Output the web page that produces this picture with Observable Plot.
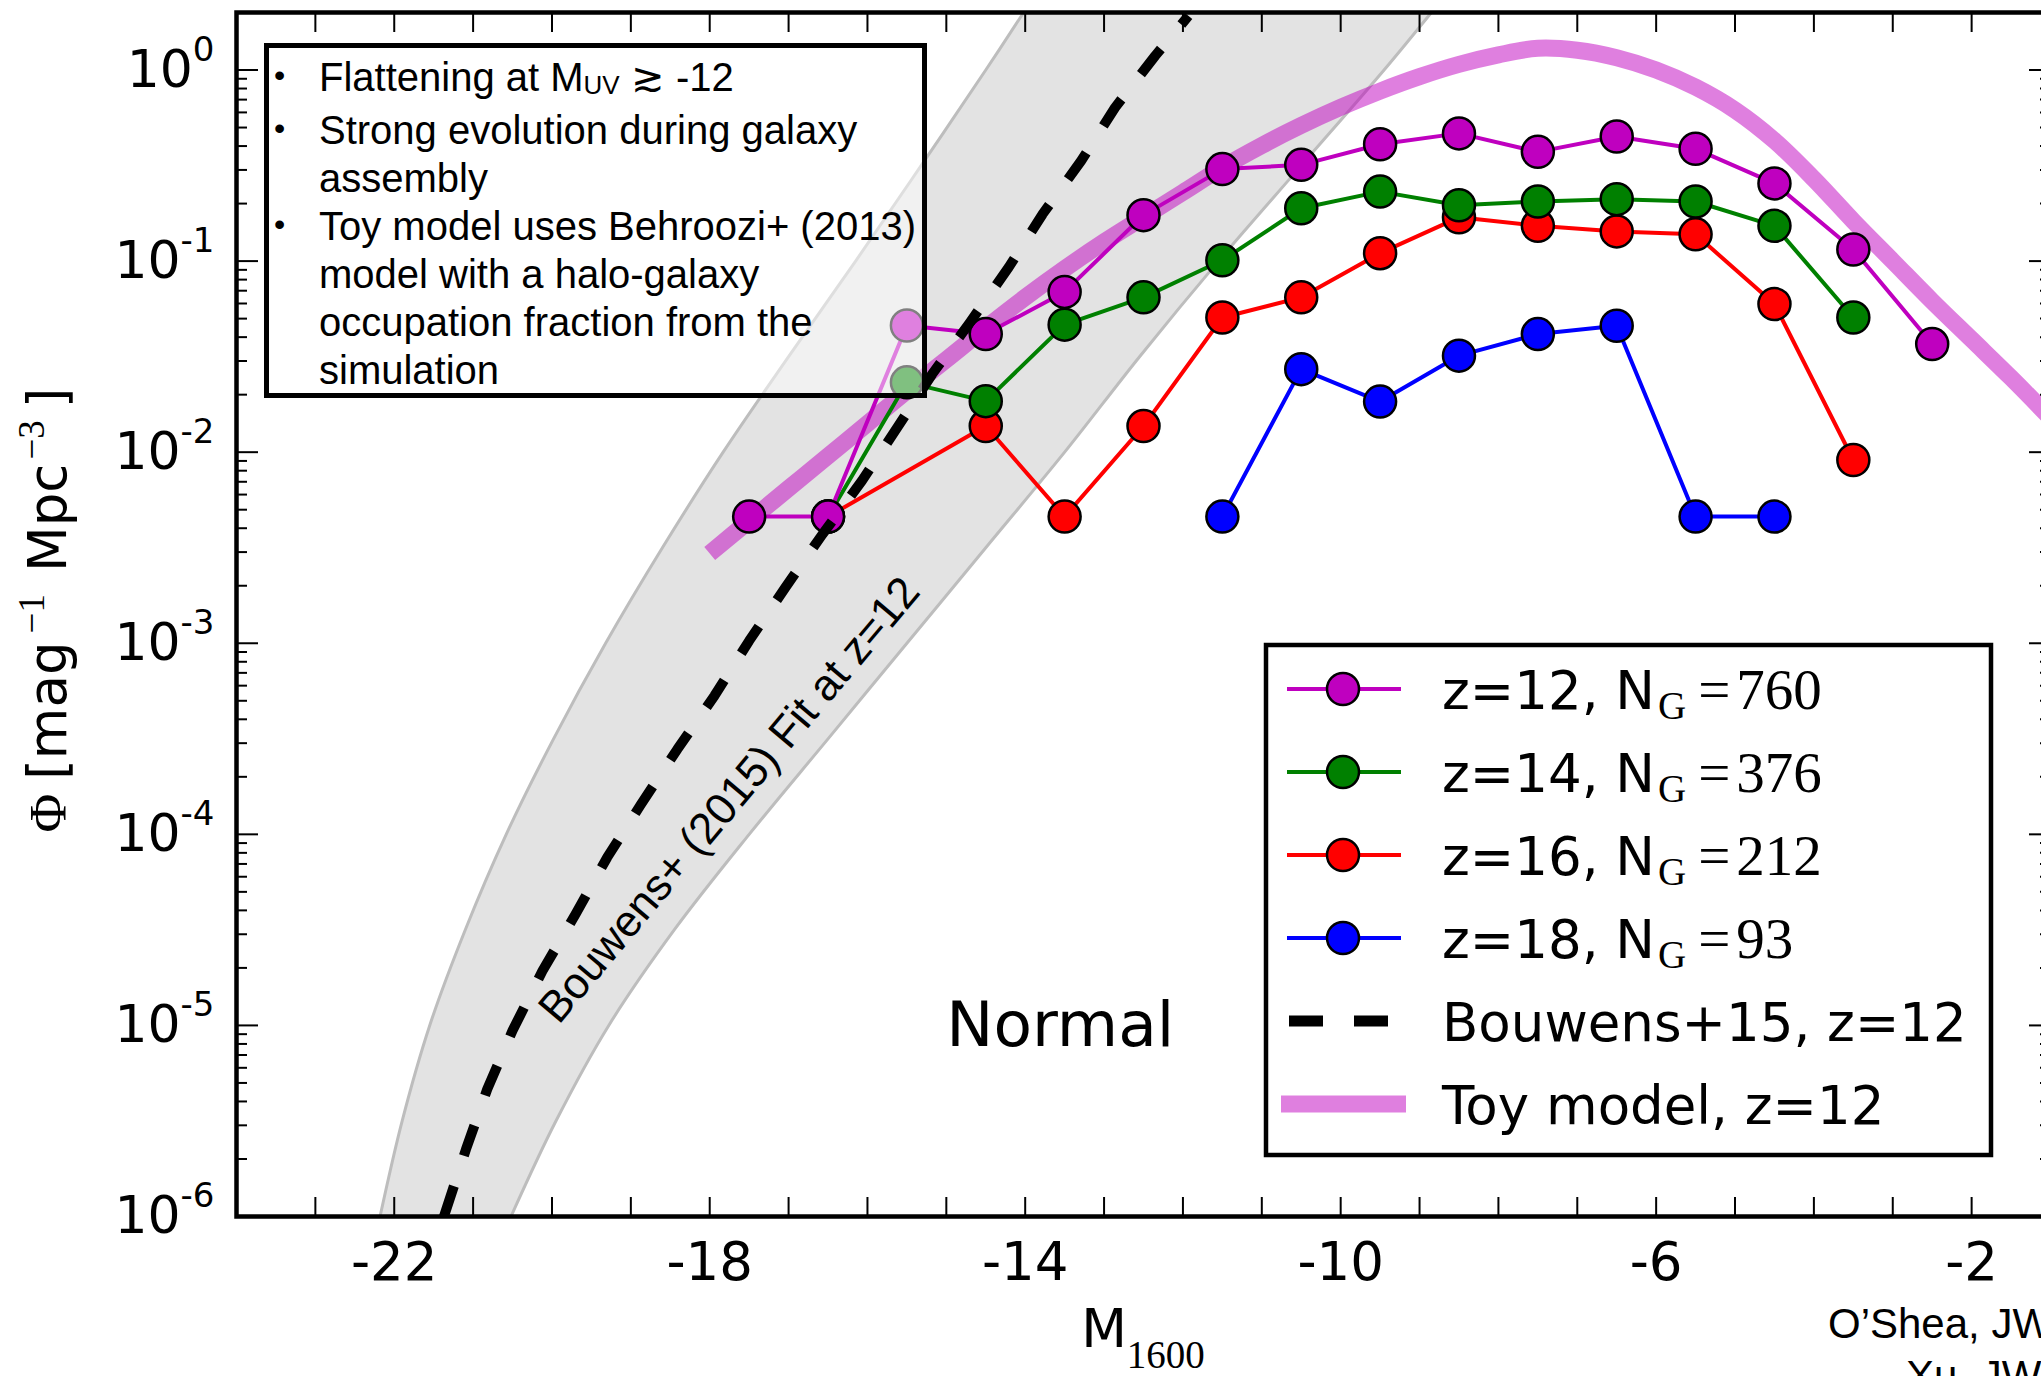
<!DOCTYPE html>
<html>
<head>
<meta charset="utf-8">
<script src="https://cdn.jsdelivr.net/npm/d3@7"></script>
<script src="https://cdn.jsdelivr.net/npm/@observablehq/plot@0.6"></script>
<style>
  html, body { margin: 0; padding: 0; background: #fff; overflow: hidden; }
  #stage { position: relative; width: 2060px; height: 1376px; overflow: hidden; }
  #notes {
    position: absolute; left: 264px; top: 43px; width: 663px; height: 355px;
    box-sizing: border-box; border: 5px solid #000; background: rgba(255,255,255,0.5);
    font-family: "Liberation Sans", Arial, sans-serif; font-size: 40px; line-height: 48px;
    padding-top: 5px; color: #000;
  }
  #notes .item { position: relative; padding-left: 50px; white-space: nowrap; }
  #notes .bullet { position: absolute; left: 5px; top: -2px; font-size: 32px; line-height: 48px; }
  #notes .sub { font-size: 26px; position: relative; top: 3px; }
</style>
</head>
<body>
<div id="stage"></div>
<script>
// ---------------- data ----------------
// magnitude bin centres (M_1600)
const magBins = [-17.5, -16.5, -15.5, -14.5, -13.5, -12.5, -11.5, -10.5, -9.5, -8.5, -7.5, -6.5, -5.5, -4.5, -3.5, -2.5];
// luminosity function per redshift (null = empty bin)
const phiZ12 = [0.0046, 0.0046, 0.046, 0.0415, 0.069, 0.174, 0.303, 0.319, 0.409, 0.466, 0.373, 0.449, 0.387, 0.255, 0.115, 0.0368];
const phiZ14 = [null, 0.0046, 0.0232, 0.0185, 0.0465, 0.0646, 0.101, 0.189, 0.231, 0.196, 0.205, 0.211, 0.205, 0.153, 0.0507, null];
const phiZ16 = [null, 0.0046, null, 0.0137, 0.0046, 0.0137, 0.0507, 0.0646, 0.110, 0.1695, 0.153, 0.143, 0.138, 0.0596, 0.0091, null];
const phiZ18 = [null, null, null, null, null, null, 0.0046, 0.0272, 0.0184, 0.032, 0.0415, 0.0459, 0.0046, 0.0046, null, null];

const seriesNames = ["z=12", "z=14", "z=16", "z=18"];
const seriesCounts = [760, 376, 212, 93];

// Bouwens+ (2015) fit extrapolated to z=12
const fitMag = [-21.37, -21.09, -20.82, -20.50, -20.12, -19.70, -19.30, -18.87, -18.41, -17.94, -17.50, -17.04, -16.57, -16.07, -15.62, -15.18, -14.70, -14.21, -13.78, -13.29, -12.86, -12.35, -11.93];
const fitPhi = [1.0e-6, 2.25e-6, 4.65e-6, 9.4e-6, 1.93e-5, 3.83e-5, 7.57e-5, 1.44e-4, 2.79e-4, 5.31e-4, 1.03e-3, 1.96e-3, 3.72e-3, 7.08e-3, 1.35e-2, 2.56e-2, 4.78e-2, 9.27e-2, 0.176, 0.335, 0.637, 1.19, 1.92];

// uncertainty envelope of the fit: bright and faint edge at each Φ level
const bandPhi = [1e-6, 3.16e-6, 1e-5, 3.16e-5, 1e-4, 3.16e-4, 1e-3, 3.16e-3, 0.01, 0.0316, 0.1, 0.316, 1, 2];
const bandBright = [-22.18, -21.9, -21.55, -21.1, -20.58, -19.98, -19.32, -18.6, -17.83, -17.0, -16.15, -15.32, -14.5, -14.02];
const bandFaint = [-20.52, -19.95, -19.28, -18.45, -17.5, -16.5, -15.5, -14.5, -13.5, -12.55, -11.55, -10.5, -9.45, -8.85];

// toy model (Behroozi+ 2013 with occupation fraction), z=12
const toyMag = [-18, -17.5, -17, -16.5, -16, -15.5, -15, -14.5, -14, -13.5, -13, -12.5, -12, -11.5, -11, -10.5, -10, -9.5, -9, -8.5, -8, -7.5, -7, -6.5, -6, -5.5, -5, -4.5, -4, -3.5, -3, -2.5, -2, -1.5, -1];
const toyPhi = [2.95e-3, 4.37e-3, 6.46e-3, 9.55e-3, 1.41e-2, 2.09e-2, 3.05e-2, 4.47e-2, 6.46e-2, 9.12e-2, 0.126, 0.170, 0.229, 0.309, 0.403, 0.513, 0.638, 0.776, 0.923, 1.07, 1.20, 1.30, 1.27, 1.16, 1.0, 0.813, 0.617, 0.427, 0.269, 0.162, 0.100, 0.0617, 0.0389, 0.0245, 0.0151];

// axis ticks
const xTickLabels = [-22, -18, -14, -10, -6, -2];
const xTickMarks = [-23, -22, -21, -20, -19, -18, -17, -16, -15, -14, -13, -12, -11, -10, -9, -8, -7, -6, -5, -4, -3, -2];
const yDecades = [1e-6, 1e-5, 1e-4, 1e-3, 1e-2, 1e-1, 1];

// annotations in data space
const fitLabel = {text: "Bouwens+ (2015) Fit at z=12", m: -17.75, phi: 1.51e-4};
const regimeLabel = {text: "Normal", m: -15, phi: 1e-5};

// ---------------- styles ----------------
const seriesColors = ["#bf00bf", "#008000", "#ff0000", "#0000ff"];
const toyColor = "#bf00bf";
const sans = "DejaVu Sans";
const serif = "Liberation Serif";

// ---------------- build rows ----------------
const bandRows = bandPhi.map((phi, i) => ({phi, bright: bandBright[i], faint: bandFaint[i]}));
const fitRows = fitMag.map((m, i) => ({m, phi: fitPhi[i]}));
const toyRows = toyMag.map((m, i) => ({m, phi: toyPhi[i]}));
const seriesPhi = [phiZ12, phiZ14, phiZ16, phiZ18];
const seriesRows = seriesPhi.map(arr => magBins.map((m, i) => ({m, phi: arr[i]})).filter(d => d.phi != null));

// minor log ticks 2..9 × 10^k
const yMinor = [];
for (const d of yDecades) for (let k = 2; k <= 9; k++) if (d * k <= 2) yMinor.push(d * k);

const seriesMarks = [];
for (const s of [3, 2, 1, 0]) {
  seriesMarks.push(Plot.line(seriesRows[s], {x: "m", y: "phi", stroke: seriesColors[s], strokeWidth: 4, clip: true}));
  seriesMarks.push(Plot.dot(seriesRows[s], {x: "m", y: "phi", r: 16, fill: seriesColors[s], stroke: "black", strokeWidth: 2.5}));
}

const chart = Plot.plot({
  width: 2060,
  height: 1376,
  marginLeft: 236,
  marginRight: 10,
  marginTop: 12,
  marginBottom: 160,
  style: {fontFamily: sans, background: "transparent", maxWidth: "none", color: "black"},
  x: {domain: [-24, -1]},
  y: {type: "log", domain: [1e-6, 2]},
  marks: [
    Plot.areaX(bandRows, {y: "phi", x1: "bright", x2: "faint", fill: "#e3e3e3", curve: "catmull-rom", clip: true}),
    Plot.line(bandRows, {x: "bright", y: "phi", stroke: "#bdbdbd", strokeWidth: 3, curve: "catmull-rom", clip: true}),
    Plot.line(bandRows, {x: "faint", y: "phi", stroke: "#bdbdbd", strokeWidth: 3, curve: "catmull-rom", clip: true}),
    Plot.text([fitLabel], {x: "m", y: "phi", text: "text", rotate: -50, fontSize: 44, fontFamily: "Liberation Sans", fill: "black", ariaLabel: "fit label"}),
    Plot.line(toyRows, {x: "m", y: "phi", stroke: toyColor, strokeOpacity: 0.5, strokeWidth: 17, strokeLinecap: "butt", curve: "catmull-rom", clip: true}),
    ...seriesMarks,
    Plot.line(fitRows, {x: "m", y: "phi", stroke: "black", strokeWidth: 10, strokeDasharray: "32 32", strokeLinecap: "butt", clip: true}),
    Plot.text([regimeLabel], {x: "m", y: "phi", text: "text", textAnchor: "start", fontSize: 63, fontFamily: sans}),
    // inward ticks on all four sides
    Plot.axisX({ticks: xTickMarks, anchor: "top", frameAnchor: "bottom", tickSize: 20, strokeWidth: 2, fill: "none", label: null}),
    Plot.axisX({ticks: xTickMarks, anchor: "bottom", frameAnchor: "top", tickSize: 20, strokeWidth: 2, fill: "none", label: null}),
    Plot.axisY({ticks: yDecades, anchor: "right", frameAnchor: "left", tickSize: 21, strokeWidth: 2, fill: "none", label: null}),
    Plot.axisY({ticks: yMinor, anchor: "right", frameAnchor: "left", tickSize: 10, strokeWidth: 2, fill: "none", label: null}),
    Plot.axisY({ticks: yDecades, anchor: "left", frameAnchor: "right", tickSize: 21, strokeWidth: 2, fill: "none", label: null}),
    Plot.axisY({ticks: yMinor, anchor: "left", frameAnchor: "right", tickSize: 10, strokeWidth: 2, fill: "none", label: null}),
    // tick labels
    Plot.axisX({ticks: xTickLabels, anchor: "bottom", tickSize: 0, tickPadding: 26, fontSize: 53, tickFormat: d => String(d), label: null}),
    Plot.axisY({ticks: yDecades, anchor: "left", tickSize: 0, tickPadding: 22, fontSize: 52, tickFormat: d => "10^" + Math.round(Math.log10(d)), label: null}),
    Plot.frame({stroke: "black", strokeWidth: 4.5})
  ]
});

document.getElementById("stage").appendChild(chart);
const svg = d3.select(chart);

// powers of ten with raised exponents
svg.selectAll('g[aria-label="y-axis tick label"] text').each(function () {
  const [base, exp] = this.textContent.split("^");
  const t = d3.select(this);
  t.text(base);
  t.append("tspan").attr("font-size", 34).attr("dy", -26).text(exp);
});

// light box behind the rotated fit label
svg.selectAll('g[aria-label="fit label"] text').each(function () {
  const bb = this.getBBox();
  d3.select(this.parentNode).insert("rect", () => this)
    .attr("x", bb.x - 8).attr("y", bb.y - 2)
    .attr("width", bb.width + 16).attr("height", bb.height + 4)
    .attr("transform", this.getAttribute("transform"))
    .attr("fill", "white").attr("fill-opacity", 0.75);
});

// axis titles
const [x0, x1] = chart.scale("x").range;
const [yb, yt] = chart.scale("y").range;
const xl = svg.append("text").attr("x", (x0 + x1) / 2).attr("y", 1347)
  .attr("text-anchor", "middle").attr("font-size", 53).attr("font-family", sans);
xl.append("tspan").text("M");
xl.append("tspan").attr("font-family", serif).attr("font-size", 39).attr("dy", 21).text("1600");

const yl = svg.append("text").attr("transform", `translate(66,${(yb + yt) / 2 - 4}) rotate(-90)`)
  .attr("text-anchor", "middle").attr("font-size", 53).attr("font-family", sans);
yl.append("tspan").attr("font-family", serif).text("Φ");
yl.append("tspan").attr("dx", 14).text("[mag");
yl.append("tspan").attr("font-family", serif).attr("font-size", 37).attr("dy", -22).attr("dx", 8).text("−1");
yl.append("tspan").attr("dy", 22).attr("dx", 22).text("Mpc");
yl.append("tspan").attr("font-family", serif).attr("font-size", 37).attr("dy", -22).attr("dx", 4).text("−3");
yl.append("tspan").attr("dy", 22).attr("dx", 12).text("]");

// legend
const lg = svg.append("g").attr("class", "legend").attr("text-anchor", "start");
const lgX = 1266, lgY = 645, lgW = 725, lgH = 510, row0 = 689, rowStep = 83, txtX = 1442;
lg.append("rect").attr("x", lgX).attr("y", lgY).attr("width", lgW).attr("height", lgH)
  .attr("fill", "white").attr("stroke", "black").attr("stroke-width", 4.5);
seriesNames.forEach((name, i) => {
  const cy = row0 + i * rowStep;
  lg.append("line").attr("x1", 1287).attr("x2", 1401).attr("y1", cy).attr("y2", cy)
    .attr("stroke", seriesColors[i]).attr("stroke-width", 4);
  lg.append("circle").attr("cx", 1343).attr("cy", cy).attr("r", 16)
    .attr("fill", seriesColors[i]).attr("stroke", "black").attr("stroke-width", 2.5);
  const t = lg.append("text").attr("x", txtX).attr("y", cy + 20).attr("text-anchor", "start")
    .attr("font-size", 53).attr("font-family", sans);
  t.append("tspan").text(`${name}, N`);
  t.append("tspan").attr("font-family", serif).attr("font-size", 39).attr("dy", 10).attr("dx", 3).text("G");
  t.append("tspan").attr("font-family", serif).attr("font-size", 57).attr("dy", -10).attr("dx", 12).text("=");
  t.append("tspan").attr("font-family", serif).attr("font-size", 57).attr("dx", 6).text(String(seriesCounts[i]));
});
{
  const cy = row0 + 4 * rowStep;
  lg.append("line").attr("x1", 1289).attr("x2", 1388).attr("y1", cy).attr("y2", cy)
    .attr("stroke", "black").attr("stroke-width", 11).attr("stroke-dasharray", "34 31");
  lg.append("text").attr("x", txtX).attr("y", cy + 20).attr("text-anchor", "start")
    .attr("font-size", 53).attr("font-family", sans).text("Bouwens+15, z=12");
}
{
  const cy = row0 + 5 * rowStep;
  lg.append("line").attr("x1", 1281).attr("x2", 1406).attr("y1", cy).attr("y2", cy)
    .attr("stroke", toyColor).attr("stroke-opacity", 0.5).attr("stroke-width", 17);
  lg.append("text").attr("x", txtX).attr("y", cy + 20).attr("text-anchor", "start")
    .attr("font-size", 53).attr("font-family", sans).text("Toy model, z=12");
}

// credit line
svg.append("text").attr("x", 1828).attr("y", 1338).attr("text-anchor", "start")
  .attr("font-size", 42).attr("font-family", "Liberation Sans").text("O’Shea, JW");
svg.append("text").attr("x", 1906).attr("y", 1390).attr("text-anchor", "start")
  .attr("font-size", 42).attr("font-family", "Liberation Sans").text("Xu, JW");

// notes box
const notes = document.createElement("div");
notes.id = "notes";
notes.innerHTML =
  '<div class="item"><span class="bullet">•</span>Flattening at M<span class="sub">UV</span> ≳ -12</div>' +
  '<div class="item"><span class="bullet">•</span>Strong evolution during galaxy<br>assembly</div>' +
  '<div class="item"><span class="bullet">•</span>Toy model uses Behroozi+ (2013)<br>model with a halo-galaxy<br>occupation fraction from the<br>simulation</div>';
document.getElementById("stage").appendChild(notes);
</script>
</body>
</html>
